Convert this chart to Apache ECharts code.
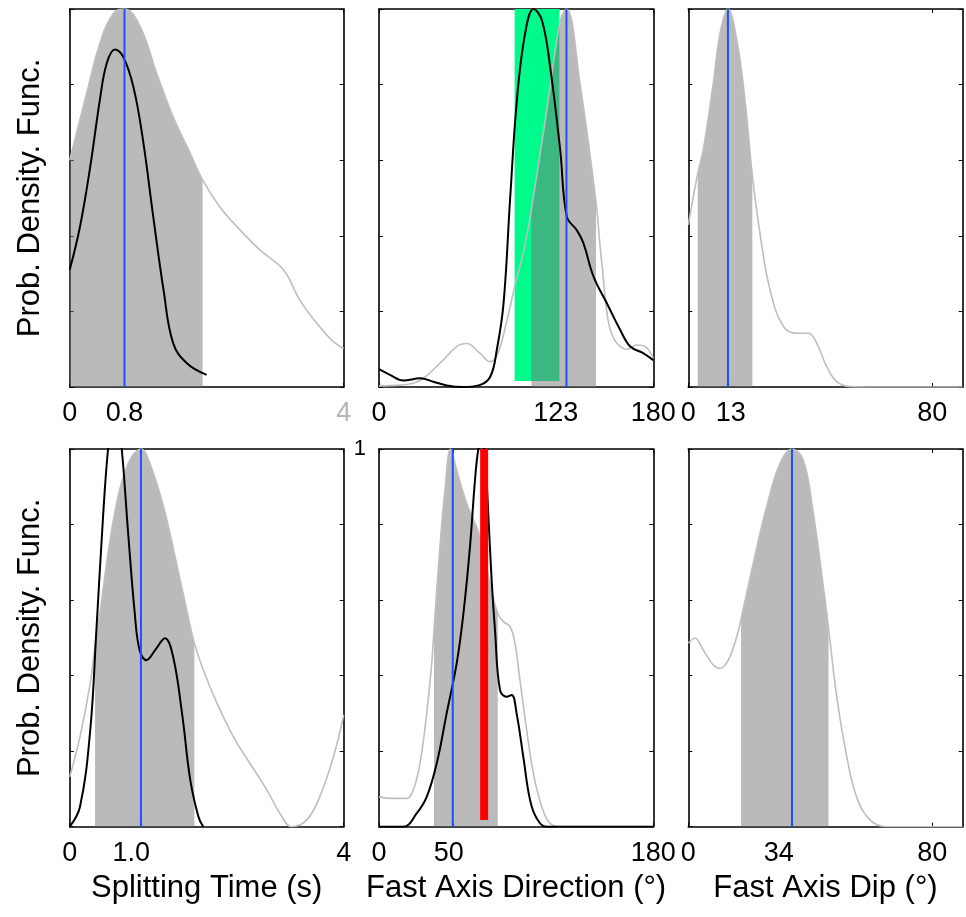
<!DOCTYPE html>
<html><head><meta charset="utf-8">
<script src="https://cdn.jsdelivr.net/npm/echarts@6/dist/echarts.min.js"></script>
<style>html,body{margin:0;padding:0;background:#fff}#c{width:966px;height:917px}</style>
</head><body><div id="c"></div>
<script>
// ---------- DATA ----------
// Panel 1: Splitting Time (top row)
const p1GrayX  = [0,0.248,0.44,0.64,0.8,1.03,1.27,1.51,1.76,1.94,2.19,2.49,2.78,3.12,3.36,3.61,3.85,4.0];
const p1GrayY  = [0.60,0.777,0.909,0.989,1.0,0.953,0.83,0.715,0.618,0.548,0.477,0.415,0.362,0.31,0.23,0.168,0.12,0.102];
const p1BlackX = [0,0.15,0.30,0.44,0.54,0.66,0.78,0.93,1.07,1.22,1.37,1.51,1.71,2.0];
const p1BlackY = [0.31,0.424,0.583,0.759,0.856,0.893,0.874,0.794,0.653,0.45,0.257,0.116,0.063,0.032];
const p1Band = [0, 1.94];
const p1Mode = 0.8;
const p1Ticks = [0, 0.8, 4];
const p1LabelPos = [0, 0.8, 4];
const p1LabelText = ['0', '0.8', '4'];

// Panel 2: Fast Axis Direction (top row)
const p2GrayX  = [0,14,27,40,51,57.6,66,73,78,84,89,95,100,110,119,123,132,142.4,144.7,146.9,149.1,151.8,156.1,162.7,169.3,174.7,180];
const p2GrayY  = [0.003,0.005,0.018,0.063,0.107,0.115,0.09,0.067,0.089,0.177,0.265,0.36,0.47,0.73,0.97,1.0,0.80,0.49,0.389,0.30,0.212,0.151,0.116,0.10,0.111,0.107,0.076];
const p2BlackX = [0,7.2,16,27,35.7,44.5,55,66,73,77.3,81.7,86,90.5,95.9,101.4,106.9,112.3,118.9,123.3,129.8,134.2,140.8,149.6,158.3,164.9,173.6,180];
const p2BlackY = [0.047,0.032,0.017,0.023,0.014,0.004,0,0.005,0.027,0.098,0.22,0.495,0.76,0.936,1.0,0.97,0.847,0.627,0.45,0.415,0.38,0.292,0.221,0.151,0.107,0.089,0.071];
const p2Band = [100, 142.4];
const p2Mode = 123;
const p2GreenX = [89, 118.4];
const p2GreenY = [0.016, 1];
const p2Ticks = [0, 123, 180];
const p2LabelPos = [0, 116, 180];
const p2LabelText = ['0', '123', '180'];

// Panel 3: Fast Axis Dip (top row)
const p3GrayX  = [0,3.1,4.9,8.2,10.4,13,15.9,18.6,21.0,23.5,26.8,31.2,35.6,39.4,42.1,45.4,48.7,53,60,90];
const p3GrayY  = [0.429,0.565,0.627,0.804,0.935,1.0,0.918,0.759,0.56,0.407,0.257,0.16,0.142,0.142,0.116,0.054,0.014,0.001,0,0];
const p3Band = [3.1, 21.0];
const p3Mode = 13;
const p3Ticks = [0, 13, 80];
const p3LabelPos = [0, 13.9, 80];
const p3LabelText = ['0', '13', '80'];

// Panel 4: Splitting Time (bottom row)
const p4GrayX  = [0,0.15,0.30,0.37,0.44,0.59,0.73,0.88,1.04,1.17,1.37,1.56,1.73,1.82,1.95,2.15,2.39,2.63,2.88,3.07,3.24,3.46,3.65,3.85,4.0];
const p4GrayY  = [0.132,0.238,0.38,0.48,0.565,0.759,0.892,0.971,1.0,0.962,0.847,0.697,0.556,0.486,0.415,0.327,0.238,0.168,0.097,0.035,0.0,0.018,0.079,0.185,0.296];
const p4BlackX = [0,0.15,0.30,0.39,0.49,0.56,0.66,0.76,0.85,0.95,1.02,1.12,1.25,1.39,1.51,1.64,1.76,1.88,1.95];
const p4BlackY = [0,0.053,0.256,0.521,0.83,1.0,1.15,1.0,0.785,0.565,0.468,0.441,0.468,0.499,0.45,0.3,0.124,0.026,0];
const p4Band = [0.37, 1.82];
const p4Mode = 1.04;
const p4Ticks = [0, 1.04, 4];
const p4LabelPos = [0, 0.9, 4];
const p4LabelText = ['0', '1.0', '4'];

// Panel 5: Fast Axis Direction (bottom row)
const p5GrayX  = [0,9.4,18.2,22.5,26.9,31.3,34.6,36.1,40,43.3,47,51,57.5,66.3,72.8,77.9,81.6,86,89.2,92.5,96.9,101.3,106.8,112.2,118.8,180];
const p5GrayY  = [0.079,0.075,0.075,0.097,0.168,0.3,0.433,0.521,0.741,0.892,1.0,0.944,0.856,0.768,0.644,0.565,0.543,0.53,0.486,0.388,0.256,0.141,0.053,0.009,0,0];
const p5BlackX = [0,16,24.7,31.3,37.9,44.4,51,55.4,59.7,63,65.2,67.5,70,71.7,73.9,76.1,79.4,83.8,87.1,90.3,94.7,99.1,103.5,110,180];
const p5BlackY = [0,0,0.035,0.079,0.168,0.3,0.433,0.565,0.741,0.918,1.0,1.03,0.95,0.83,0.653,0.521,0.362,0.344,0.349,0.3,0.185,0.071,0.022,0,0];
const p5Band = [36.1, 77.9];
const p5Mode = 48.4;
const p5RedX = 69;
const p5RedY = [0.018, 1];
const p5Ticks = [0, 48.4, 180];
const p5LabelPos = [0, 45.7, 180];
const p5LabelText = ['0', '50', '180'];

// Panel 6: Fast Axis Dip (bottom row)
const p6GrayX  = [0,2.2,4.9,8.2,10.4,13.1,15.9,17.3,21.3,25.7,30.1,34,37.7,41,44.3,46.0,48.7,52,55.2,59.6,65,90];
const p6GrayY  = [0.486,0.499,0.468,0.428,0.419,0.441,0.503,0.55,0.697,0.847,0.962,1.0,0.971,0.83,0.635,0.525,0.344,0.185,0.079,0.018,0,0];
const p6Band = [17.3, 46.0];
const p6Mode = 34;
const p6Ticks = [0, 34, 80];
const p6LabelPos = [0, 29.7, 80];
const p6LabelText = ['0', '34', '80'];

const yTitle = 'Prob. Density. Func.';
const xTitles = ['Splitting Time (s)', 'Fast Axis Direction (°)', 'Fast Axis Dip (°)'];

// ---------- BUILD ----------
const FONT = "'Liberation Sans', Arial, Helvetica, sans-serif";
const SMOOTH = 0.4;
const pairs = (xs, ys) => xs.map((x, i) => [x, ys[i]]);
const within = (xs, ys, lo, hi) => pairs(xs, ys).filter(p => p[0] >= lo - 1e-9 && p[0] <= hi + 1e-9);

const panels = [
  {grid:{left:69.7, top:9, width:274, height:378}, xMax:4, gx:p1GrayX, gy:p1GrayY, bx:p1BlackX, by:p1BlackY, band:p1Band, mode:p1Mode, ticks:p1Ticks, lp:p1LabelPos, lt:p1LabelText, grayLabel:2, yName:true},
  {grid:{left:379, top:9, width:274.3, height:378}, xMax:180, gx:p2GrayX, gy:p2GrayY, bx:p2BlackX, by:p2BlackY, band:p2Band, mode:p2Mode, ticks:p2Ticks, lp:p2LabelPos, lt:p2LabelText, green:true},
  {grid:{left:688.3, top:9, width:274.4, height:378}, xMax:90, gx:p3GrayX, gy:p3GrayY, band:p3Band, mode:p3Mode, ticks:p3Ticks, lp:p3LabelPos, lt:p3LabelText},
  {grid:{left:69.7, top:449, width:274, height:377.7}, xMax:4, gx:p4GrayX, gy:p4GrayY, bx:p4BlackX, by:p4BlackY, band:p4Band, mode:p4Mode, ticks:p4Ticks, lp:p4LabelPos, lt:p4LabelText, yName:true, xName:xTitles[0]},
  {grid:{left:379, top:449, width:274.3, height:377.7}, xMax:180, gx:p5GrayX, gy:p5GrayY, bx:p5BlackX, by:p5BlackY, band:p5Band, mode:p5Mode, ticks:p5Ticks, lp:p5LabelPos, lt:p5LabelText, red:true, yOne:true, xName:xTitles[1]},
  {grid:{left:688.3, top:449, width:274.4, height:377.7}, xMax:90, gx:p6GrayX, gy:p6GrayY, band:p6Band, mode:p6Mode, ticks:p6Ticks, lp:p6LabelPos, lt:p6LabelText, xName:xTitles[2]},
];

const axisLine = {show:true, onZero:false, lineStyle:{color:'#000', width:1.6}};
const grids = [], xAxes = [], yAxes = [], series = [];

panels.forEach((p, i) => {
  grids.push(Object.assign({containLabel:false, show:false}, p.grid));
  const xi = 2 * i, yi = 2 * i;
  xAxes.push({
    type:'value', gridIndex:i, position:'bottom', min:0, max:p.xMax,
    axisLine, splitLine:{show:false},
    axisTick:{show:true, inside:true, length:4, customValues:p.ticks, lineStyle:{color:'#000', width:1}},
    axisLabel:{show:true, customValues:p.lp, margin:13, fontSize:27, color:'#000', fontFamily:FONT,
      formatter:(v) => {
        let k = 0, d = Infinity;
        p.lp.forEach((q, j) => { if (Math.abs(q - v) < d) { d = Math.abs(q - v); k = j; } });
        return (p.grayLabel === k) ? '{g|' + p.lt[k] + '}' : p.lt[k];
      },
      rich:{g:{color:'#b4b4b4', fontSize:27, fontFamily:FONT}}
    },
    name:p.xName || '', nameLocation:'middle', nameGap:46,
    nameTextStyle:{fontSize:31, color:'#000', fontFamily:FONT}
  });
  xAxes.push({
    type:'value', gridIndex:i, position:'top', min:0, max:p.xMax,
    axisLine, splitLine:{show:false},
    axisTick:{show:true, inside:true, length:4, customValues:p.ticks, lineStyle:{color:'#000', width:1}},
    axisLabel:{show:false}
  });
  yAxes.push({
    type:'value', gridIndex:i, position:'left', min:0, max:1, interval:0.2,
    axisLine, splitLine:{show:false},
    axisTick:{show:true, inside:true, length:4, lineStyle:{color:'#000', width:1}},
    axisLabel: p.yOne ? {show:true, customValues:[1], formatter:() => '{one|1}', margin:13,
        rich:{one:{fontSize:22, color:'#000', fontFamily:FONT}}} : {show:false},
    name:p.yName ? yTitle : '', nameLocation:'middle', nameGap:24,
    nameTextStyle:{fontSize:31, color:'#000', fontFamily:FONT}
  });
  yAxes.push({
    type:'value', gridIndex:i, position:'right', min:0, max:1, interval:0.2,
    axisLine, splitLine:{show:false},
    axisTick:{show:true, inside:true, length:4, lineStyle:{color:'#000', width:1}},
    axisLabel:{show:false}
  });

  const base = {type:'line', xAxisIndex:xi, yAxisIndex:yi, symbol:'none', silent:true, animation:false};
  if (p.green) {
    series.push(Object.assign({}, base, {
      data:[], z:1,
      markArea:{silent:true, itemStyle:{color:'#00fa8c', opacity:1},
        data:[[{coord:[p2GreenX[0], p2GreenY[0]]}, {coord:[p2GreenX[1], p2GreenY[1]]}]]}
    }));
  }
  series.push(Object.assign({}, base, {
    data: within(p.gx, p.gy, p.band[0], p.band[1]), z:2,
    smooth:SMOOTH,
    lineStyle:{width:0, opacity:0},
    areaStyle:{color:'rgba(118,118,118,0.5)', opacity:1}
  }));
  series.push(Object.assign({}, base, {
    data: pairs(p.gx, p.gy), z:3, smooth:SMOOTH,
    lineStyle:{color:'#bebebe', width:1.6}
  }));
  if (p.bx) {
    series.push(Object.assign({}, base, {
      data: pairs(p.bx, p.by), z:4, smooth:SMOOTH,
      lineStyle:{color:'#000', width:2}
    }));
  }
  series.push(Object.assign({}, base, {
    data: [[p.mode, 0], [p.mode, 1]], z:5,
    lineStyle:{color:'#1f4fff', width:2}
  }));
  if (p.red) {
    series.push(Object.assign({}, base, {
      data: [[p5RedX, p5RedY[0]], [p5RedX, p5RedY[1]]], z:6,
      lineStyle:{color:'#ff0000', width:8, cap:'butt'}
    }));
  }
});

const chart = echarts.init(document.getElementById('c'), null, {renderer:'canvas'});
chart.setOption({
  animation:false,
  backgroundColor:'#fff',
  textStyle:{fontFamily:FONT},
  grid:grids, xAxis:xAxes, yAxis:yAxes, series
});
</script>
</body></html>
